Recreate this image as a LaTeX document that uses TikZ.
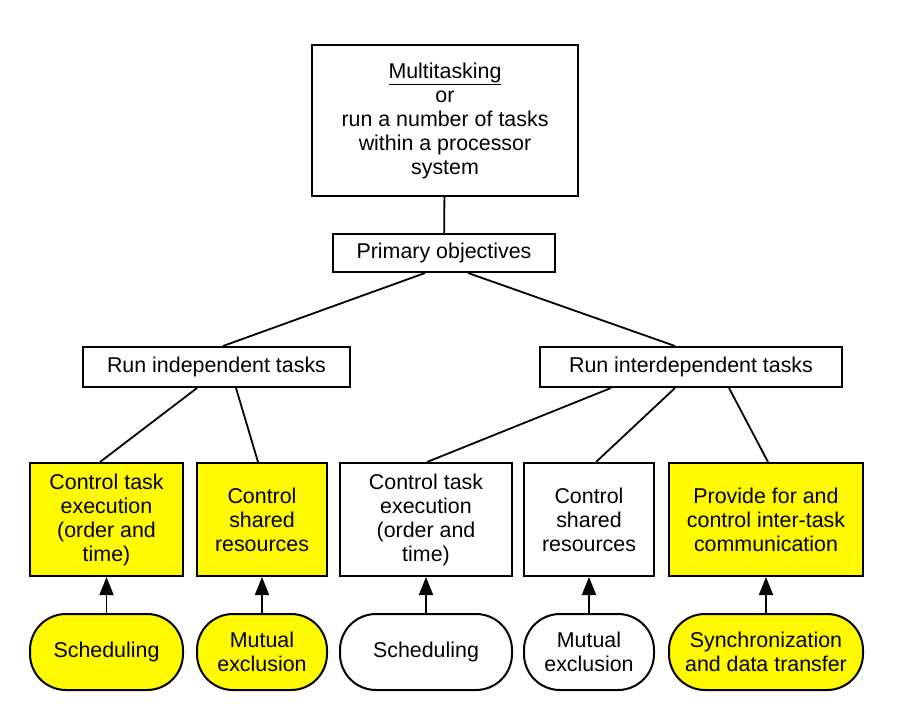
\documentclass[tikz,border=0pt]{standalone}
\usepackage{fontspec}
\setmainfont{Liberation Sans}
\usetikzlibrary{arrows.meta}
\definecolor{marked}{RGB}{255,250,0}

\begin{document}
\begin{tikzpicture}[
  x=1pt,
  y=-1pt,
  font=\fontsize{21.4}{24}\selectfont,
  box/.style={
    draw,
    line width=2pt,
    align=center,
    inner sep=0pt
  },
  goal/.style={
    box,
    minimum height=113pt
  },
  method/.style={
    box,
    minimum height=76pt,
    rounded corners=36pt
  },
  link/.style={
    line width=1.8pt
  },
  uses/.style={
    line width=1.8pt,
    -{Triangle[width=14pt,length=18pt]}
  }
  ]
  \useasboundingbox (0, 0) rectangle (905, 713);

  \node [box, minimum width=266pt, minimum height=151pt] (Multi) at (445, 120.5)
    {\underline{Multitasking}\\or\\run a number of tasks\\within a processor\\system};
  \node [box, minimum width=222pt, minimum height=38pt] (Primary) at (444, 253) {Primary objectives};
  \node [box, minimum width=267pt, minimum height=40pt] (Indep) at (216.5, 367) {Run independent tasks};
  \node [box, minimum width=302pt, minimum height=40pt] (Inter) at (691, 367) {Run interdependent tasks};

  \node [goal, fill=marked, minimum width=153pt] (ExecA) at (106.5, 519.5) {Control task\\execution\\(order and\\time)};
  \node [goal, fill=marked, minimum width=130pt] (SharedA) at (262, 519.5) {Control\\shared\\resources};
  \node [goal, minimum width=172pt] (ExecB) at (426, 519.5) {Control task\\execution\\(order and\\time)};
  \node [goal, minimum width=130pt] (SharedB) at (589, 519.5) {Control\\shared\\resources};
  \node [goal, fill=marked, minimum width=194pt] (Comm) at (766, 519.5) {Provide for and\\control inter-task\\communication};

  \node [method, fill=marked, minimum width=153pt] (SchedA) at (106.5, 652) {Scheduling};
  \node [method, fill=marked, minimum width=130pt] (MutexA) at (262, 652) {Mutual\\exclusion};
  \node [method, minimum width=172pt] (SchedB) at (426, 652) {Scheduling};
  \node [method, minimum width=130pt] (MutexB) at (589, 652) {Mutual\\exclusion};
  \node [method, fill=marked, minimum width=194pt] (Sync) at (766, 652) {Synchronization\\and data transfer};

  \draw [link] (Multi) -- (Primary);
  \draw [link] ([xshift=-19pt]Primary.south) -- ([xshift=6.5pt]Indep.north);
  \draw [link] ([xshift=24pt]Primary.south) -- ([xshift=-16pt]Inter.north);
  \draw [link] ([xshift=-19.5pt]Indep.south) -- ([xshift=-6.5pt]ExecA.north);
  \draw [link] ([xshift=19.5pt]Indep.south) -- ([xshift=-4pt]SharedA.north);
  \draw [link] ([xshift=-80pt]Inter.south) -- ([xshift=1pt]ExecB.north);
  \draw [link] ([xshift=-16pt]Inter.south) -- ([xshift=7pt]SharedB.north);
  \draw [link] ([xshift=38pt]Inter.south) -- ([xshift=2pt]Comm.north);

  \draw [uses] (SchedA) -- (ExecA);
  \draw [uses] (MutexA) -- (SharedA);
  \draw [uses] (SchedB) -- (ExecB);
  \draw [uses] (MutexB) -- (SharedB);
  \draw [uses] (Sync) -- (Comm);
\end{tikzpicture}
\end{document}
